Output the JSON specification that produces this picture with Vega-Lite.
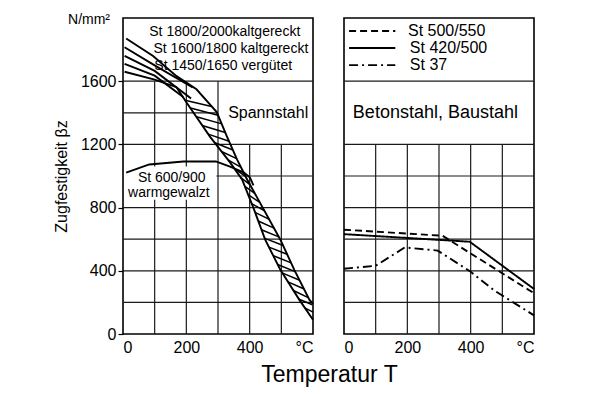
{
  "$schema": "https://vega.github.io/schema/vega-lite/v6.json",
  "background": "white",
  "padding": {"left": 52, "top": 11, "right": 5, "bottom": 5},
  "spacing": 31,
  "bounds": "flush",
  "config": {
    "font": "Liberation Sans",
    "view": {"stroke": "black", "strokeWidth": 1.6},
    "axis": {"labelColor": "black", "titleColor": "black", "titleFontWeight": "normal", "labelFont": "Liberation Sans", "titleFont": "Liberation Sans"}
  },
  "datasets": {
    "gridL": [
      {"x": 100, "y": 0, "x2": 100, "y2": 850}, {"x": 100, "y": 1060, "x2": 100, "y2": 1600},
      {"x": 200, "y": 0, "x2": 200, "y2": 850}, {"x": 200, "y": 1060, "x2": 200, "y2": 1600},
      {"x": 300, "y": 0, "x2": 300, "y2": 1600},
      {"x": 400, "y": 0, "x2": 400, "y2": 1200}, {"x": 500, "y": 0, "x2": 500, "y2": 1200},
      {"x": 0, "y": 200, "x2": 600, "y2": 200}, {"x": 0, "y": 400, "x2": 600, "y2": 400},
      {"x": 0, "y": 600, "x2": 600, "y2": 600}, {"x": 0, "y": 800, "x2": 600, "y2": 800},
      {"x": 295, "y": 1000, "x2": 600, "y2": 1000}, {"x": 0, "y": 1200, "x2": 600, "y2": 1200},
      {"x": 0, "y": 1400, "x2": 300, "y2": 1400}, {"x": 0, "y": 1600, "x2": 600, "y2": 1600}
    ],
    "gridR": [
      {"x": 100, "y": 0, "x2": 100, "y2": 1200}, {"x": 200, "y": 0, "x2": 200, "y2": 1200},
      {"x": 300, "y": 0, "x2": 300, "y2": 1200}, {"x": 400, "y": 0, "x2": 400, "y2": 1200},
      {"x": 500, "y": 0, "x2": 500, "y2": 1200},
      {"x": 0, "y": 200, "x2": 600, "y2": 200}, {"x": 0, "y": 400, "x2": 600, "y2": 400},
      {"x": 0, "y": 600, "x2": 600, "y2": 600}, {"x": 0, "y": 800, "x2": 600, "y2": 800},
      {"x": 0, "y": 1000, "x2": 600, "y2": 1000}, {"x": 0, "y": 1200, "x2": 600, "y2": 1200},
      {"x": 0, "y": 1600, "x2": 600, "y2": 1600}
    ],
    "curvesL": [
      {"s": "U", "T": 10, "v": 1870}, {"s": "U", "T": 95, "v": 1760}, {"s": "U", "T": 169, "v": 1632},
      {"s": "U", "T": 232, "v": 1549}, {"s": "U", "T": 296, "v": 1405}, {"s": "U", "T": 328, "v": 1251},
      {"s": "U", "T": 360, "v": 1105}, {"s": "U", "T": 392, "v": 978}, {"s": "U", "T": 497, "v": 597},
      {"s": "U", "T": 541, "v": 406}, {"s": "U", "T": 589, "v": 216}, {"s": "U", "T": 600, "v": 190},
      {"s": "m1", "T": 5, "v": 1815}, {"s": "m1", "T": 100, "v": 1700}, {"s": "m1", "T": 220, "v": 1560},
      {"s": "m2", "T": 5, "v": 1760}, {"s": "m2", "T": 100, "v": 1665}, {"s": "m2", "T": 215, "v": 1490},
      {"s": "m3", "T": 5, "v": 1710}, {"s": "m3", "T": 100, "v": 1635}, {"s": "m3", "T": 190, "v": 1500},
      {"s": "L", "T": 5, "v": 1660}, {"s": "L", "T": 100, "v": 1610}, {"s": "L", "T": 169, "v": 1562},
      {"s": "L", "T": 200, "v": 1467}, {"s": "L", "T": 274, "v": 1251}, {"s": "L", "T": 338, "v": 1086},
      {"s": "L", "T": 376, "v": 978}, {"s": "L", "T": 414, "v": 787}, {"s": "L", "T": 449, "v": 597},
      {"s": "L", "T": 497, "v": 406}, {"s": "L", "T": 557, "v": 216}, {"s": "L", "T": 600, "v": 90},
      {"s": "W", "T": 10, "v": 1022}, {"s": "W", "T": 83, "v": 1073}, {"s": "W", "T": 191, "v": 1092},
      {"s": "W", "T": 293, "v": 1092}, {"s": "W", "T": 338, "v": 1060}, {"s": "W", "T": 382, "v": 1022},
      {"s": "W", "T": 401, "v": 990}, {"s": "W", "T": 412, "v": 940}
    ],
    "hatch": [
      {"T": 196, "v": 1480, "T2": 280, "v2": 1440}, {"T": 213, "v": 1430, "T2": 300, "v2": 1385},
      {"T": 232, "v": 1375, "T2": 312, "v2": 1330}, {"T": 250, "v": 1320, "T2": 323, "v2": 1275},
      {"T": 269, "v": 1265, "T2": 335, "v2": 1220}, {"T": 290, "v": 1210, "T2": 347, "v2": 1165},
      {"T": 311, "v": 1155, "T2": 359, "v2": 1110}, {"T": 333, "v": 1100, "T2": 373, "v2": 1055},
      {"T": 352, "v": 1045, "T2": 386, "v2": 1000}, {"T": 372, "v": 990, "T2": 401, "v2": 945},
      {"T": 385, "v": 935, "T2": 416, "v2": 890}, {"T": 396, "v": 880, "T2": 431, "v2": 835},
      {"T": 406, "v": 825, "T2": 447, "v2": 780}, {"T": 417, "v": 770, "T2": 462, "v2": 725},
      {"T": 427, "v": 715, "T2": 477, "v2": 670}, {"T": 437, "v": 660, "T2": 492, "v2": 615},
      {"T": 448, "v": 605, "T2": 506, "v2": 560}, {"T": 461, "v": 550, "T2": 518, "v2": 505},
      {"T": 475, "v": 495, "T2": 531, "v2": 450}, {"T": 488, "v": 440, "T2": 544, "v2": 395},
      {"T": 504, "v": 385, "T2": 558, "v2": 340}, {"T": 521, "v": 330, "T2": 572, "v2": 285},
      {"T": 538, "v": 275, "T2": 585, "v2": 230}, {"T": 556, "v": 220, "T2": 598, "v2": 185},
      {"T": 574, "v": 165, "T2": 600, "v2": 138}
    ],
    "labelsL": [
      {"T": 83, "v": 1911, "text": "St  1800/2000kaltgereckt"},
      {"T": 96, "v": 1803, "text": "St  1600/1800 kaltgereckt"},
      {"T": 99, "v": 1695, "text": "St  1450/1650 vergütet"}
    ],
    "labelsW": [
      {"T": 47, "v": 990, "text": "St  600/900"},
      {"T": 16, "v": 893, "text": "warmgewalzt"}
    ],
    "curvesR": [
      {"g": "c1", "s": "St 500/550", "T": 0, "v": 660}, {"g": "c1", "s": "St 500/550", "T": 311, "v": 622},
      {"g": "c1", "s": "St 500/550", "T": 600, "v": 258},
      {"g": "c2", "s": "St 420/500", "T": 0, "v": 632}, {"g": "c2", "s": "St 420/500", "T": 397, "v": 584},
      {"g": "c2", "s": "St 420/500", "T": 600, "v": 285},
      {"g": "c3", "s": "St 37", "T": 0, "v": 413}, {"g": "c3", "s": "St 37", "T": 100, "v": 432},
      {"g": "c3", "s": "St 37", "T": 192, "v": 548}, {"g": "c3", "s": "St 37", "T": 296, "v": 528},
      {"g": "c3", "s": "St 37", "T": 400, "v": 394}, {"g": "c3", "s": "St 37", "T": 476, "v": 273},
      {"g": "c3", "s": "St 37", "T": 517, "v": 222}, {"g": "c3", "s": "St 37", "T": 600, "v": 118},
      {"g": "k1", "s": "St 500/550", "T": 16, "v": 1918}, {"g": "k1", "s": "St 500/550", "T": 162, "v": 1918},
      {"g": "k2", "s": "St 420/500", "T": 16, "v": 1810}, {"g": "k2", "s": "St 420/500", "T": 162, "v": 1810},
      {"g": "k3", "s": "St 37", "T": 16, "v": 1702}, {"g": "k3", "s": "St 37", "T": 162, "v": 1702}
    ],
    "labelsR": [
      {"T": 202, "v": 1918, "text": "St  500/550"},
      {"T": 208, "v": 1810, "text": "St  420/500"},
      {"T": 208, "v": 1702, "text": "St  37"}
    ]
  },
  "hconcat": [
    {
      "width": 190,
      "height": 316,
      "layer": [
        {
          "data": {"name": "gridL"},
          "mark": {"type": "rule", "color": "#1a1a1a", "strokeWidth": 1.2},
          "encoding": {
            "x": {"field": "x", "type": "quantitative", "scale": {"domain": [0, 600], "nice": false},
              "axis": {"values": [0, 200, 400, 600], "labelExpr": "datum.value == 600 ? '°C' : datum.label",
                "grid": false, "domain": false, "ticks": false, "labelPadding": 5, "labelFontSize": 16,
                "title": "Temperatur T", "titleFontSize": 23, "titlePadding": 8, "titleX": 206}},
            "y": {"field": "y", "type": "quantitative", "scale": {"domain": [0, 2000], "nice": false},
              "axis": {"values": [0, 200, 400, 600, 800, 1000, 1200, 1400, 1600],
                "labelExpr": "datum.value % 400 == 0 ? datum.value : ''",
                "grid": false, "domain": false, "tickSize": 5, "tickColor": "black", "tickWidth": 1.2,
                "labelPadding": 2, "labelFontSize": 16, "title": "Zugfestigkeit βz", "titleFontSize": 16, "titlePadding": 11}},
            "x2": {"field": "x2"},
            "y2": {"field": "y2"}
          }
        },
        {
          "data": {"name": "curvesL"},
          "mark": {"type": "line", "color": "black", "strokeWidth": 1.9},
          "encoding": {
            "x": {"field": "T", "type": "quantitative"},
            "y": {"field": "v", "type": "quantitative"},
            "detail": {"field": "s"}
          }
        },
        {
          "data": {"name": "hatch"},
          "mark": {"type": "rule", "color": "black", "strokeWidth": 1.5},
          "encoding": {
            "x": {"field": "T", "type": "quantitative"},
            "y": {"field": "v", "type": "quantitative"},
            "x2": {"field": "T2"},
            "y2": {"field": "v2"}
          }
        },
        {
          "data": {"name": "labelsL"},
          "mark": {"type": "text", "align": "left", "baseline": "middle", "fontSize": 14, "font": "Liberation Sans", "color": "black"},
          "encoding": {
            "x": {"field": "T", "type": "quantitative"},
            "y": {"field": "v", "type": "quantitative"},
            "text": {"field": "text"}
          }
        },
        {
          "data": {"name": "labelsW"},
          "mark": {"type": "text", "align": "left", "baseline": "middle", "fontSize": 14, "font": "Liberation Sans", "color": "black"},
          "encoding": {
            "x": {"field": "T", "type": "quantitative"},
            "y": {"field": "v", "type": "quantitative"},
            "text": {"field": "text"}
          }
        },
        {
          "data": {"values": [{"T": 332, "v": 1400, "text": "Spannstahl"}]},
          "mark": {"type": "text", "align": "left", "baseline": "middle", "fontSize": 16, "font": "Liberation Sans", "color": "black"},
          "encoding": {
            "x": {"field": "T", "type": "quantitative"},
            "y": {"field": "v", "type": "quantitative"},
            "text": {"field": "text"}
          }
        },
        {
          "data": {"values": [{"T": -41, "v": 1990, "text": "N/mm²"}]},
          "mark": {"type": "text", "align": "right", "baseline": "middle", "fontSize": 14, "font": "Liberation Sans", "color": "black"},
          "encoding": {
            "x": {"field": "T", "type": "quantitative"},
            "y": {"field": "v", "type": "quantitative"},
            "text": {"field": "text"}
          }
        }
      ]
    },
    {
      "width": 190,
      "height": 316,
      "layer": [
        {
          "data": {"name": "gridR"},
          "mark": {"type": "rule", "color": "#1a1a1a", "strokeWidth": 1.2},
          "encoding": {
            "x": {"field": "x", "type": "quantitative", "scale": {"domain": [0, 600], "nice": false},
              "axis": {"values": [0, 200, 400, 600], "labelExpr": "datum.value == 600 ? '°C' : datum.label",
                "grid": false, "domain": false, "ticks": false, "labelPadding": 5, "labelFontSize": 16, "title": null}},
            "y": {"field": "y", "type": "quantitative", "scale": {"domain": [0, 2000], "nice": false}, "axis": null},
            "x2": {"field": "x2"},
            "y2": {"field": "y2"}
          }
        },
        {
          "data": {"name": "curvesR"},
          "mark": {"type": "line", "color": "black", "strokeWidth": 1.9},
          "encoding": {
            "x": {"field": "T", "type": "quantitative"},
            "y": {"field": "v", "type": "quantitative"},
            "detail": {"field": "g"},
            "strokeDash": {"field": "s", "type": "nominal",
              "scale": {"domain": ["St 500/550", "St 420/500", "St 37"], "range": [[7, 4], [1, 0], [9, 4, 2, 4]]},
              "legend": null}
          }
        },
        {
          "data": {"name": "labelsR"},
          "mark": {"type": "text", "align": "left", "baseline": "middle", "fontSize": 16, "font": "Liberation Sans", "color": "black"},
          "encoding": {
            "x": {"field": "T", "type": "quantitative"},
            "y": {"field": "v", "type": "quantitative"},
            "text": {"field": "text"}
          }
        },
        {
          "data": {"values": [{"T": 28, "v": 1400, "text": "Betonstahl, Baustahl"}]},
          "mark": {"type": "text", "align": "left", "baseline": "middle", "fontSize": 18, "font": "Liberation Sans", "color": "black"},
          "encoding": {
            "x": {"field": "T", "type": "quantitative"},
            "y": {"field": "v", "type": "quantitative"},
            "text": {"field": "text"}
          }
        }
      ]
    }
  ]
}
